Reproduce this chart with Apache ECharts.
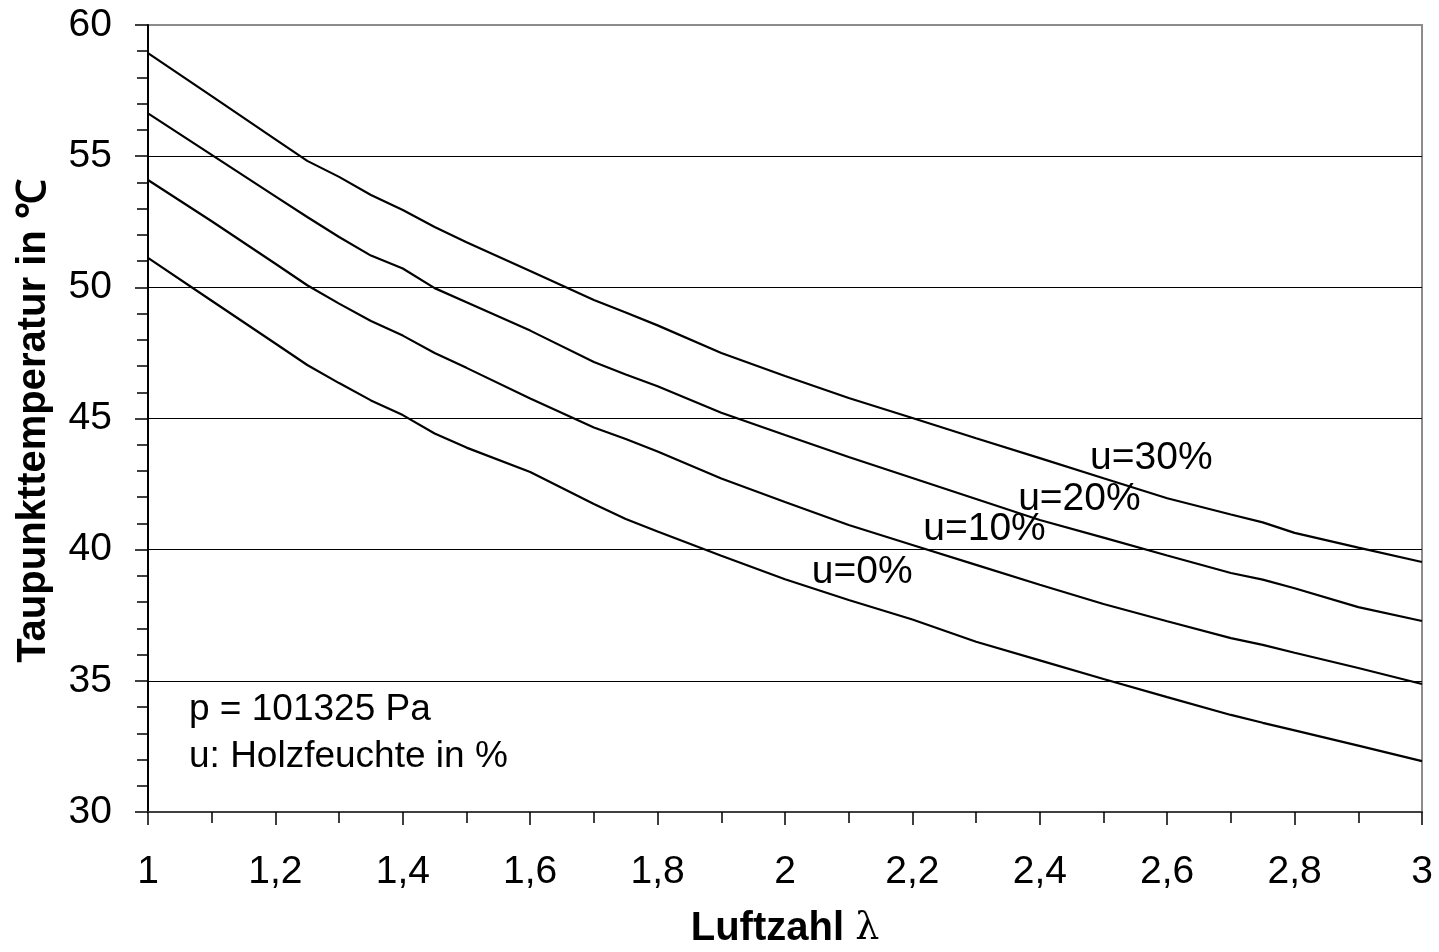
<!DOCTYPE html>
<html>
<head>
<meta charset="utf-8">
<script src="https://cdn.jsdelivr.net/npm/echarts@6/dist/echarts.min.js"></script>
<style>
html,body{margin:0;padding:0;background:#fff;}
#chart{width:1439px;height:952px;}
</style>
</head>
<body>
<div id="chart"></div>
<script>
// Luftzahl λ
const lambda = [1, 1.1, 1.2, 1.25, 1.3, 1.35, 1.4, 1.45, 1.5, 1.6, 1.7, 1.75, 1.8, 1.9, 2.0, 2.1, 2.2, 2.3, 2.4, 2.5, 2.6, 2.7, 2.75, 2.8, 2.9, 3.0];
// Taupunkttemperatur in °C for wood moisture u
const u30 = [58.93, 57.29, 55.64, 54.82, 54.21, 53.52, 52.95, 52.30, 51.72, 50.62, 49.52, 49.04, 48.55, 47.50, 46.62, 45.78, 45.02, 44.25, 43.49, 42.72, 41.96, 41.34, 41.04, 40.64, 40.08, 39.53];
const u20 = [56.63, 55.05, 53.47, 52.68, 51.92, 51.21, 50.72, 49.97, 49.43, 48.35, 47.15, 46.68, 46.23, 45.22, 44.37, 43.53, 42.73, 41.93, 41.13, 40.46, 39.78, 39.11, 38.86, 38.53, 37.81, 37.28];
const u10 = [54.09, 52.52, 50.90, 50.08, 49.38, 48.72, 48.16, 47.50, 46.93, 45.76, 44.66, 44.22, 43.74, 42.71, 41.82, 40.94, 40.18, 39.42, 38.66, 37.93, 37.27, 36.63, 36.37, 36.07, 35.49, 34.88];
const u0  = [51.12, 49.49, 47.86, 47.04, 46.35, 45.69, 45.13, 44.43, 43.89, 42.96, 41.74, 41.17, 40.69, 39.77, 38.87, 38.08, 37.34, 36.49, 35.78, 35.07, 34.38, 33.70, 33.40, 33.11, 32.53, 31.94];
const seriesNames = ['u=30%', 'u=20%', 'u=10%', 'u=0%'];
// label anchor positions [λ, T]
const labelAnchors = [[2.479, 43.49], [2.366, 41.93], [2.217, 40.79], [2.042, 39.15]];
const xTickValues = [1, 1.2, 1.4, 1.6, 1.8, 2, 2.2, 2.4, 2.6, 2.8, 3];
const xTickLabels = ['1', '1,2', '1,4', '1,6', '1,8', '2', '2,2', '2,4', '2,6', '2,8', '3'];
const yTickLabels = ['30', '35', '40', '45', '50', '55', '60'];
const noteLines = ['p = 101325 Pa', 'u: Holzfeuchte in %'];

const FONT = '"Liberation Sans", Arial, sans-serif';
const allSeries = [u30, u20, u10, u0];

const chart = echarts.init(document.getElementById('chart'), null, {renderer: 'canvas'});

const series = allSeries.map((vals, i) => ({
  name: seriesNames[i],
  type: 'line',
  data: lambda.map((x, j) => [x, vals[j]]),
  symbol: 'none',
  smooth: false,
  lineStyle: {color: '#000', width: 2.2},
  silent: true,
  markPoint: {
    silent: true,
    symbol: 'circle',
    symbolSize: 0,
    itemStyle: {color: 'transparent'},
    data: [{
      coord: labelAnchors[i],
      label: {
        show: true,
        position: 'right',
        distance: 0,
        formatter: seriesNames[i],
        color: '#000',
        fontFamily: FONT,
        fontSize: 39
      }
    }]
  }
}));

const option = {
  animation: false,
  backgroundColor: '#fff',
  grid: {
    left: 148, right: 17, top: 25, bottom: 140,
    outerBoundsMode: 'none',
    containLabel: false,
    show: true, borderColor: '#8c8c8c', borderWidth: 2, backgroundColor: '#fff'
  },
  xAxis: {
    type: 'value', min: 1, max: 3, interval: 0.2,
    axisLine: {show: true, lineStyle: {color: '#404040', width: 2}},
    axisTick: {show: true, length: 13, lineStyle: {color: '#000', width: 1.5}},
    minorTick: {show: true, splitNumber: 2, length: 11, lineStyle: {color: '#000', width: 1.5}},
    splitLine: {show: false},
    axisLabel: {
      color: '#000', fontFamily: FONT, fontSize: 39, margin: 41,
      formatter: v => {
        const k = xTickValues.findIndex(t => Math.abs(t - v) < 1e-6);
        return k >= 0 ? xTickLabels[k] : '';
      }
    },
    name: '{b|Luftzahl }{n|λ}',
    nameLocation: 'middle',
    nameGap: 97,
    nameTextStyle: {
      rich: {
        b: {fontFamily: FONT, fontWeight: 'bold', fontSize: 40, color: '#000'},
        n: {fontFamily: '"DejaVu Serif", serif', fontSize: 38, color: '#000'}
      }
    }
  },
  yAxis: {
    type: 'value', min: 30, max: 60, interval: 5,
    axisLine: {show: true, lineStyle: {color: '#000', width: 2}},
    axisTick: {show: true, length: 13, lineStyle: {color: '#000', width: 1.5}},
    minorTick: {show: true, splitNumber: 5, length: 11, lineStyle: {color: '#000', width: 1.5}},
    splitLine: {show: true, lineStyle: {color: ['#000', '#000', '#000', '#000', '#000', '#000', '#8c8c8c'], width: 1.2}},
    axisLabel: {
      color: '#000', fontFamily: FONT, fontSize: 39, margin: 36,
      formatter: v => yTickLabels[Math.round((v - 30) / 5)] || ''
    }
  },
  graphic: [
    {
      type: 'text',
      x: 34, y: 421, rotation: Math.PI / 2,
      style: {
        text: 'Taupunkttemperatur in ℃',
        x: 0, y: 0,
        align: 'center', verticalAlign: 'middle',
        fontFamily: FONT, fontWeight: 'bold', fontSize: 40, fill: '#000'
      }
    },
    {
      type: 'text', x: 189, y: 710,
      style: {text: noteLines[0], align: 'left', verticalAlign: 'middle', fontFamily: FONT, fontSize: 37, fill: '#000'}
    },
    {
      type: 'text', x: 189, y: 757,
      style: {text: noteLines[1], align: 'left', verticalAlign: 'middle', fontFamily: FONT, fontSize: 37, fill: '#000'}
    }
  ],
  series: series
};
chart.setOption(option);
</script>
</body>
</html>
